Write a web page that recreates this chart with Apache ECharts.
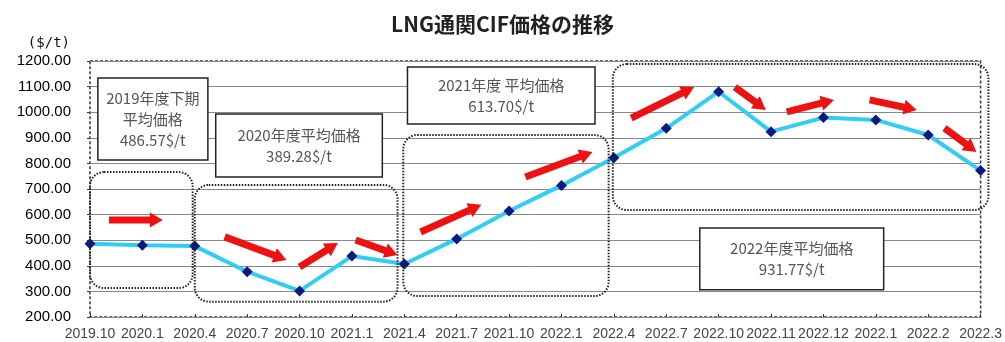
<!DOCTYPE html>
<html><head><meta charset="utf-8">
<script src="https://cdn.jsdelivr.net/npm/echarts@6/dist/echarts.min.js"></script>
<style>html,body{margin:0;padding:0;background:#fff}#c{width:1005px;height:342px}</style>
</head><body><div id="c"></div>
<script>
// ---- data ----
const categories = ['2019.10','2020.1','2020.4','2020.7','2020.10','2021.1','2021.4','2021.7','2021.10','2022.1','2022.4','2022.7','2022.10','2022.11','2022.12','2022.1','2022.2','2022.3'];
const prices = [486.57, 480, 477, 377, 302, 438, 407, 505, 614, 714, 822, 937, 1080, 924, 979, 970, 911, 772];
const yTicks = {min: 200, max: 1200, interval: 100};
const titleText = 'LNG通関CIF価格の推移';
const unitText = '($/t)';
// annotation boxes: [idxLeft, valTop, idxRight, valBottom]
const noteTexts = ['2019年度下期\n平均価格\n486.57$/t', '2020年度平均価格\n389.28$/t', '2021年度 平均価格\n613.70$/t', '2022年度平均価格\n931.77$/t'];
const noteBoxes = [[0.15,1134,2.25,813],[2.40,993,5.58,747],[6.06,1177,9.64,954],[11.64,548,15.15,306]];
// dotted period frames [idxLeft, valTop, idxRight, valBottom]
const periodFrames = [[0,766,1.96,313],[2.0,716,5.87,260],[5.98,911,9.9,282],[9.98,1188,17.15,618]];
// trend arrows [idxStart, valStart, idxTip, valTip]
const trendArrows = [
  [0.36,579,1.39,579],[2.57,513,3.75,423],[4.0,395,4.73,489],[5.07,501,5.87,442],
  [6.31,532,7.47,638],[8.31,747,9.59,845],[10.33,977,11.53,1098],[12.31,1098,12.90,1009],
  [13.30,1001,14.20,1048],[14.88,1048,15.78,1009],[16.31,938,16.92,845]
];

const chart = echarts.init(document.getElementById('c'), null, {renderer:'canvas'});
const option = {
  animation: false,
  backgroundColor: '#fff',
  title: {text: titleText, left: 'center', top: 9,
    textStyle: {fontFamily: 'Noto Sans CJK JP', fontSize: 21, fontWeight: 'bold', color: '#222'}},
  grid: {left: 90, right: 23, top: 61, bottom: 25, show: true, borderColor: '#333', borderWidth: 1.5, borderType: [3,2], backgroundColor: '#fff'},
  xAxis: {
    type: 'category', data: categories, boundaryGap: false,
    axisLine: {show: false},
    axisTick: {show: true, inside: true, length: 3, lineStyle: {color: '#333'}},
    axisLabel: {interval: 0, color: '#444', fontSize: 14, fontFamily: 'Liberation Sans', margin: 10},
    splitLine: {show: false}
  },
  yAxis: {
    type: 'value', min: yTicks.min, max: yTicks.max, interval: yTicks.interval,
    name: unitText, nameLocation: 'end', nameGap: 11,
    nameTextStyle: {align: 'right', padding: [0, 20, 0, 0], fontSize: 14, color: '#111', fontFamily: 'DejaVu Sans Mono'},
    axisLine: {show: false},
    axisTick: {show: true, length: 3, lineStyle: {color: '#333'}},
    axisLabel: {color: '#000', fontSize: 15, fontFamily: 'Liberation Sans', margin: 19, formatter: v => v.toFixed(2)},
    splitLine: {lineStyle: {color: '#888', width: 1}}
  },
  series: [{
    type: 'line', data: prices, symbol: 'diamond', symbolSize: 11,
    lineStyle: {color: '#33ccf5', width: 4},
    itemStyle: {color: '#0a1a80'}, z: 5
  }]
};
chart.setOption(option);

const x0 = chart.convertToPixel({xAxisIndex: 0}, 0);
const x1 = chart.convertToPixel({xAxisIndex: 0}, categories.length - 1);
const px = i => x0 + (x1 - x0) * i / (categories.length - 1);
const py = v => chart.convertToPixel({yAxisIndex: 0}, v);

const g = [];
periodFrames.forEach(f => {
  const l = px(f[0]), t = py(f[1]), r = px(f[2]), b = py(f[3]);
  g.push({type: 'rect', z: 10, silent: true,
    shape: {x: l, y: t, width: r - l, height: b - t, r: 14},
    style: {fill: null, stroke: '#222', lineWidth: 2, lineDash: [1.5, 1.5]}});
});
noteBoxes.forEach((bx, k) => {
  const l = px(bx[0]), t = py(bx[1]), r = px(bx[2]), b = py(bx[3]);
  g.push({type: 'rect', z: 20, silent: true,
    shape: {x: l, y: t, width: r - l, height: b - t},
    style: {fill: '#fff', stroke: '#222', lineWidth: 1.5}});
  g.push({type: 'text', z: 21, silent: true, x: (l + r) / 2, y: (t + b) / 2,
    style: {text: noteTexts[k], fill: '#555', fontSize: 15, fontFamily: 'Noto Sans CJK JP',
      align: 'center', verticalAlign: 'middle', lineHeight: 21}});
});
trendArrows.forEach(a => {
  const sx = px(a[0]), sy = py(a[1]), tx = px(a[2]), ty = py(a[3]);
  const dx = tx - sx, dy = ty - sy, len = Math.hypot(dx, dy);
  const ux = dx / len, uy = dy / len, nx = -uy, ny = ux;
  const w = 3.5, hw = 7.5, hl = 13;
  const bx = tx - ux * hl, by = ty - uy * hl;
  g.push({type: 'polygon', z: 15, silent: true,
    shape: {points: [
      [sx + nx * w, sy + ny * w], [bx + nx * w, by + ny * w], [bx + nx * hw, by + ny * hw],
      [tx, ty], [bx - nx * hw, by - ny * hw], [bx - nx * w, by - ny * w], [sx - nx * w, sy - ny * w]
    ]},
    style: {fill: '#ee1111', stroke: null}});
});
chart.setOption({graphic: g});
</script>
</body></html>
